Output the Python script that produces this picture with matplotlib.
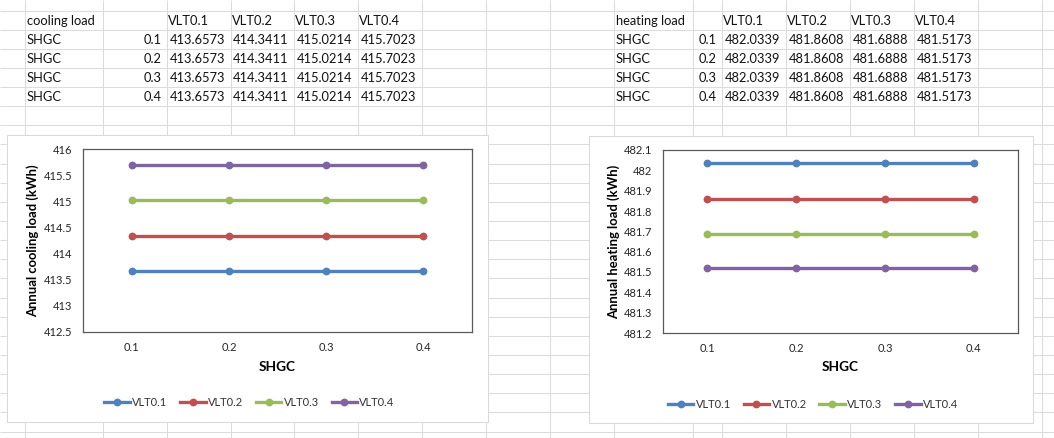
import matplotlib.pyplot as plt
from matplotlib.patches import Rectangle
from matplotlib.ticker import MultipleLocator, FuncFormatter

# -------------------------------
# DATA (as in the sheet)
# -------------------------------
shgc = [0.1, 0.2, 0.3, 0.4]
vlt_labels = ['VLT0.1', 'VLT0.2', 'VLT0.3', 'VLT0.4']

# one row per SHGC value, one column per VLT value
cooling_rows = [
    [413.6573, 414.3411, 415.0214, 415.7023],
    [413.6573, 414.3411, 415.0214, 415.7023],
    [413.6573, 414.3411, 415.0214, 415.7023],
    [413.6573, 414.3411, 415.0214, 415.7023],
]
heating_rows = [
    [482.0339, 481.8608, 481.6888, 481.5173],
    [482.0339, 481.8608, 481.6888, 481.5173],
    [482.0339, 481.8608, 481.6888, 481.5173],
    [482.0339, 481.8608, 481.6888, 481.5173],
]

colors = ['#4F81BD', '#C0504D', '#9BBB59', '#8064A2']

# -------------------------------
# SHEET BACKGROUND
# -------------------------------
W, H = 1054, 438
plt.rcParams['font.family'] = ['Lato', 'DejaVu Sans']
fig = plt.figure(figsize=(W / 100, H / 100), dpi=100)

bg = fig.add_axes([0, 0, 1, 1])
bg.set_xlim(0, W)
bg.set_ylim(H, 0)
bg.axis('off')

col_lines = [24, 102, 166, 230, 293, 357, 421, 485, 549, 613,
             692, 721, 785, 849, 913, 977, 1041]
row_lines = [10 + 19.14 * k for k in range(23)]
grid_color = '#dadcdd'
bg.vlines([c + 0.5 for c in col_lines], 0, H, color=grid_color, lw=0.75)
bg.hlines([r + 0.5 for r in row_lines], 0, W, color=grid_color, lw=0.75)


def draw_table(cols, title, rows):
    def base(k):
        return row_lines[k + 1] - 4.5
    txt = dict(fontsize=9.3, color='#111111', va='baseline')
    bg.text(cols[0] + 3, base(0), title, ha='left', **txt)
    for j, name in enumerate(vlt_labels):
        bg.text(cols[2 + j] + 2, base(0), name, ha='left', **txt)
    for i, row in enumerate(rows):
        bg.text(cols[0] + 3, base(i + 1), 'SHGC', ha='left', **txt)
        bg.text(cols[2] - 4, base(i + 1), str(shgc[i]), ha='right', **txt)
        for j, v in enumerate(row):
            bg.text(cols[3 + j] - 5, base(i + 1), str(v), ha='right', **txt)


draw_table([24, 102, 166, 230, 293, 357, 421], 'cooling load', cooling_rows)
draw_table([613, 692, 721, 785, 849, 913, 977], 'heating load', heating_rows)


# -------------------------------
# CHARTS
# -------------------------------
def draw_chart(outer, plot, ylab_x, rows, ylim, step, ylabel, legend_xy):
    ox0, oy0, ox1, oy1 = outer
    bg.add_patch(Rectangle((ox0, oy0), ox1 - ox0, oy1 - oy0, facecolor='white',
                           edgecolor='#d9d9d9', lw=0.75, zorder=3))
    px0, py0, px1, py1 = plot
    ax = fig.add_axes([px0 / W, 1 - py1 / H, (px1 - px0) / W, (py1 - py0) / H])

    for j, name in enumerate(vlt_labels):
        series = [row[j] for row in rows]
        ax.plot(shgc, series, color=colors[j], lw=2.4, marker='o', ms=4.6,
                label=name)

    ax.set_xlim(0.05, 0.45)
    ax.set_xticks(shgc)
    ax.set_xticklabels([str(s) for s in shgc])
    ax.set_ylim(*ylim)
    ax.yaxis.set_major_locator(MultipleLocator(step))
    ax.yaxis.set_major_formatter(FuncFormatter(lambda v, p: f'{round(v, 3):g}'))
    ax.tick_params(length=0, labelsize=8, colors='#262626')
    ax.tick_params(axis='x', pad=7)
    ax.tick_params(axis='y', pad=7.9)
    for s in ax.spines.values():
        s.set_color('#595959')
        s.set_linewidth(0.9)

    ax.set_xlabel('SHGC', fontsize=9.8, fontweight='bold', color='black', va='center')
    ax.xaxis.set_label_coords(0.5, -(367 - py1) / (py1 - py0))
    ax.set_ylabel(ylabel, fontsize=9.4, fontweight='bold', color='black', va='center')
    ax.yaxis.set_label_coords(-(px0 - ylab_x) / (px1 - px0), 0.5)

    ax.legend(loc='center', ncol=4, frameon=False, fontsize=8,
              bbox_to_anchor=(legend_xy[0] / W, 1 - legend_xy[1] / H),
              bbox_transform=fig.transFigure, handlelength=2.3,
              handletextpad=0.2, columnspacing=1.15, numpoints=1,
              labelcolor='#333333')
    return ax


draw_chart((7, 135, 488, 422), (83, 149, 472, 332), 33, cooling_rows,
           (412.5, 416), 0.5, 'Annual cooling load (kWh)', (249.5, 402))
draw_chart((589, 136, 1033, 423), (663, 150, 1018, 333), 614, heating_rows,
           (481.2, 482.1), 0.1, 'Annual heating load (kWh)', (813, 404))

fig.savefig('out.png', dpi=100)
